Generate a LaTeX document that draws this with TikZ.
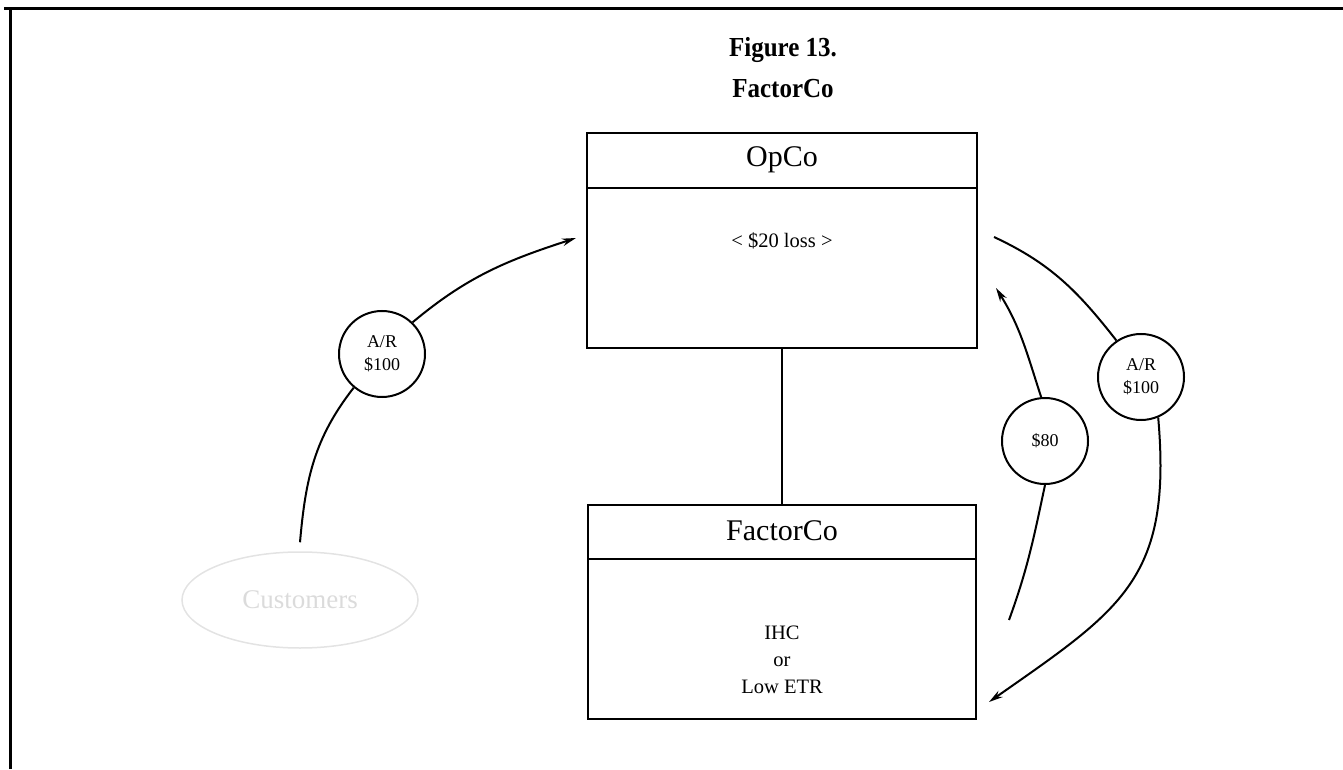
\documentclass[tikz,border=0pt]{standalone}
\usepackage{fontspec}
\setmainfont{Liberation Serif}
\usetikzlibrary{calc,shapes.geometric,arrows.meta}
\newcommand{\bodysize}{\fontsize{20.5}{27}\selectfont}

\begin{document}
\begin{tikzpicture}[x=1pt,y=1pt,
	entity/.style={draw, line width=2pt, minimum width=390pt, inner sep=0pt},
	flow/.style={draw, circle, line width=2pt, minimum size=86pt, inner sep=0pt, align=center, font=\fontsize{18}{23}\selectfont},
	link/.style={line width=2pt},
	tip/.style={-{Stealth[length=14pt,width=7.5pt]}}]
	\useasboundingbox (0,0) rectangle (1343,769);
	% frame
	\draw[line width=3pt] (4,760.5) -- (1343,760.5);
	\draw[line width=3pt] (10,0) -- (10,762);

	\node[font=\bfseries\fontsize{25}{37.5}\selectfont, align=center, yscale=1.1] (title) at (783,701.5) {Figure 13.\\FactorCo};

	% OpCo
	\node[entity, minimum height=215pt] (opco) at (782,528.5) {};
	\draw[link] ($(opco.north west)+(0,-56)$) -- ($(opco.north east)+(0,-56)$);
	\node[font=\fontsize{30}{30}\selectfont] (opcoName) at ($(opco.north)+(0,-28)$) {OpCo};
	\node[font=\bodysize] (opcoLoss) at ($(opco.north)+(0,-109)$) {< \$20 loss >};

	% FactorCo
	\node[entity, minimum width=388pt, minimum height=214pt] (factor) at (782,157) {};
	\draw[link] ($(factor.north west)+(0,-55)$) -- ($(factor.north east)+(0,-55)$);
	\node[font=\fontsize{30}{30}\selectfont] (factorName) at ($(factor.north)+(0,-27)$) {FactorCo};
	\node[font=\bodysize, align=center] (factorKind) at ($(factor.north)+(0,-156)$) {IHC\\or\\Low ETR};

	\draw[link] (opco) -- (factor);

	\node[ellipse, draw=gray!22, line width=1.5pt, minimum width=236pt, minimum height=96pt,
		text=gray!28, font=\fontsize{27}{27}\selectfont] (cust) at (300,169) {Customers};

	\node[flow] (arIn) at (382,415) {A/R\\\$100};
	\node[flow] (arOut) at (1141,392) {A/R\\\$100};
	\node[flow] (cash) at (1045,328) {\$80};

	\coordinate (custTop) at ($(cust.north)+(0,9)$);
	\coordinate (opcoIn) at ($(opco.west)+(-10,2.5)$);
	\coordinate (opcoOut) at ($(opco.east)+(16,3.5)$);
	\coordinate (opcoBack) at ($(opco.east)+(18,-47.5)$);
	\coordinate (factorIn) at ($(factor.east)+(12,-90)$);
	\coordinate (factorOut) at ($(factor.east)+(32,-8)$);

	\draw[link] (custTop) to[out=85,in=232] (arIn.230);
	\draw[link,tip] (arIn.46) to[out=40,in=198] (opcoIn);
	\draw[link] (opcoOut) to[out=-25,in=128] (arOut.124);
	\draw[link,tip] (arOut.293) to[out=-85,in=35,looseness=1.25] (factorIn);
	\draw[link] (factorOut) to[out=70,in=258] (cash.270);
	\draw[link,tip] (cash.95) to[out=108,in=302] (opcoBack);

\end{tikzpicture}
\end{document}
